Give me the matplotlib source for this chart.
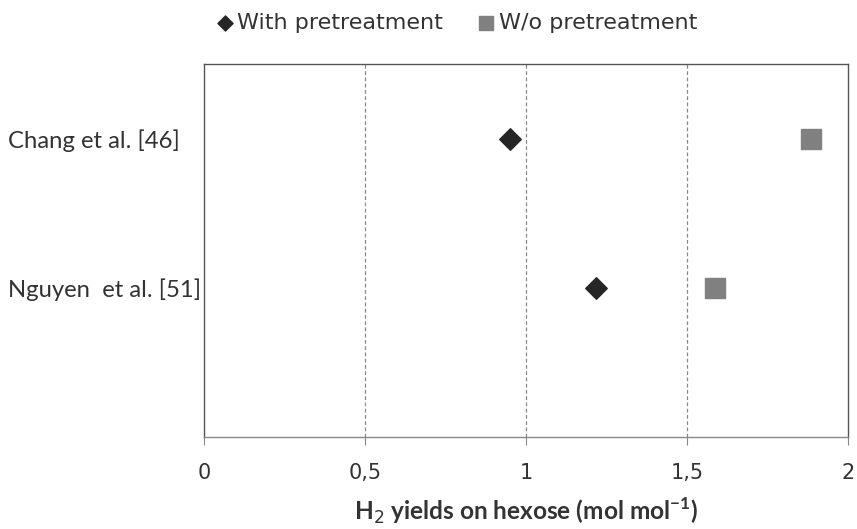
import matplotlib.pyplot as plt

studies = ['Chang et al. [46]', 'Nguyen  et al. [51]']
study_pos = [2, 1]
with_pretreatment = [0.95, 1.217]
without_pretreatment = [1.885, 1.587]
x_ticks = [0, 0.5, 1, 1.5, 2]
x_tick_labels = ['0', '0,5', '1', '1,5', '2']

fig = plt.figure(figsize=(8.57, 5.29), dpi=100)
ax = fig.add_axes([0.238, 0.174, 0.7515, 0.705])

ax.scatter(with_pretreatment, study_pos, marker='D', s=120, color='#262626',
           label='With pretreatment', zorder=3)
ax.scatter(without_pretreatment, study_pos, marker='s', s=220, color='#808080',
           label='W/o pretreatment', zorder=3)

ax.set_xlim(0, 2)
ax.set_ylim(0, 2.5)
ax.set_xticks(x_ticks)
ax.set_xticklabels(x_tick_labels, fontsize=15, color='#333333', family='DejaVu Sans')
ax.set_yticks(study_pos)
ax.set_yticklabels(studies, fontsize=17.2, color='#333333', family='Lato', ha='left')
ax.tick_params(axis='y', length=0, pad=141)
ax.tick_params(axis='x', length=6, color='#888888', pad=13)

for x in x_ticks[1:-1]:
    ax.axvline(x, color='#888888', linestyle=(0, (3, 2)), linewidth=0.9, zorder=1)

for side in ax.spines.values():
    side.set_color('#555555')
    side.set_linewidth(1.0)
ax.spines['bottom'].set_color('#888888')

ax.set_xlabel('H$_2$ yields on hexose (mol mol$^{\\mathregular{-1}}$)', fontsize=17.6,
              fontweight='bold', family='Lato', color='#333333', labelpad=9)

ax.legend(loc='lower center', bbox_to_anchor=(0.393, 1.03), ncol=2, frameon=False,
          prop={'family': 'DejaVu Sans', 'size': 16}, handlelength=0.7,
          handletextpad=0.2, columnspacing=1.6, markerscale=0.7,
          labelcolor='#333333')

fig.savefig('out.png', dpi=100)
